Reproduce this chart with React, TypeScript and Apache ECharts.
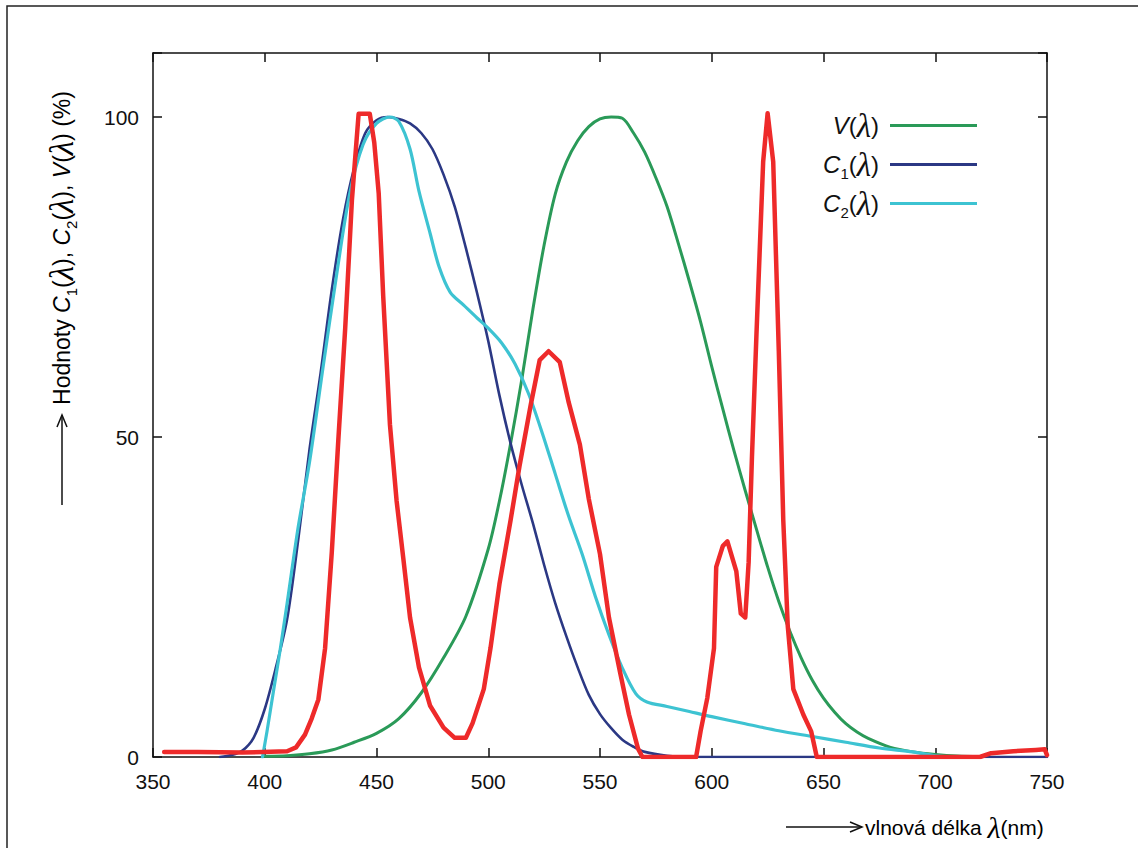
import React, { useEffect, useRef } from "react";
import * as echarts from "echarts";

// ---- data (wavelength in nm, value in %) ----
const vWavelength = [400, 410, 420, 430, 440, 450, 460, 470, 480, 490, 500, 505, 510, 515, 520, 525, 530, 535, 540, 545, 550, 555, 560, 565, 570, 575, 580, 585, 590, 595, 600, 605, 610, 615, 620, 625, 630, 635, 640, 645, 650, 655, 660, 665, 670, 680, 690, 700, 710, 720];
const vValues = [0.1, 0.2, 0.5, 1.1, 2.3, 3.7, 6.0, 10.0, 15.5, 22.0, 32.5, 40.0, 49.0, 59.0, 70.0, 80.0, 88.0, 93.0, 96.3, 98.5, 99.7, 100, 99.8, 97.5, 94.5, 90.5, 86.0, 80.3, 74.3, 68.0, 61.0, 54.3, 47.8, 41.6, 35.6, 29.7, 24.3, 19.6, 15.5, 12.0, 9.2, 7.0, 5.2, 3.9, 2.9, 1.5, 0.8, 0.4, 0.15, 0.05];

const c1Wavelength = [380, 385, 390, 395, 400, 405, 410, 415, 420, 425, 430, 435, 440, 445, 450, 455, 460, 465, 470, 475, 480, 485, 490, 495, 500, 505, 510, 515, 520, 525, 530, 535, 540, 545, 550, 555, 560, 565, 570, 580, 590, 750];
const c1Values = [0, 0.3, 1.0, 3.0, 7.5, 14.0, 21.5, 34.0, 48.0, 60.0, 73.0, 84.0, 92.0, 97.5, 99.5, 100, 99.7, 99.0, 97.5, 95.0, 91.0, 86.0, 79.5, 72.5, 65.0, 56.5, 49.0, 42.5, 36.5, 30.0, 24.0, 18.8, 14.0, 9.7, 6.7, 4.5, 2.7, 1.6, 0.8, 0.2, 0, 0];

const c2Wavelength = [399, 401, 404, 407, 410, 415, 420, 426, 432, 438, 444, 450, 456, 460, 465, 469, 474, 478, 483, 489, 495, 500, 506, 512, 518, 524, 530, 536, 542, 548, 554, 560, 566, 571, 580, 590, 600, 615, 630, 645, 660, 675, 690, 700, 710];
const c2Values = [0, 4.0, 10.5, 17.0, 24.0, 36.0, 46.0, 60.7, 75.0, 88.0, 95.7, 99.0, 100, 99.3, 95.0, 88.4, 81.8, 76.6, 72.6, 70.6, 68.6, 67.0, 64.7, 61.4, 56.8, 50.8, 44.2, 37.6, 31.7, 25.0, 19.1, 13.9, 9.9, 8.6, 7.9, 7.1, 6.3, 5.2, 4.1, 3.2, 2.3, 1.4, 0.8, 0.2, 0];

const ledWavelength = [355, 370, 390, 410, 414, 418, 421, 424, 427, 430, 433, 436, 439, 442, 447, 449, 451, 453, 456, 459, 462, 465, 469, 474, 480, 485, 490, 493, 498, 501, 505, 510, 514, 519, 523, 527, 532, 536, 541, 545, 550, 554, 559, 563, 567, 569, 593, 595, 598, 601, 602, 605, 607, 611, 613, 615, 616.5, 618, 620, 623, 625, 627.5, 630, 632, 634, 636.5, 641, 644.5, 647, 720, 725, 735, 745, 749, 750];
const ledValues = [0.8, 0.8, 0.7, 0.9, 1.5, 3.5, 6.0, 9.0, 17.0, 32.0, 50.0, 67.0, 87.0, 100.5, 100.5, 96.0, 88.0, 72.0, 52.0, 40.0, 31.0, 21.8, 14.0, 8.0, 4.6, 3.0, 3.0, 5.3, 10.6, 17.0, 27.0, 37.0, 45.5, 55.0, 62.0, 63.4, 61.7, 55.4, 48.8, 40.3, 31.7, 21.8, 13.2, 6.6, 1.3, 0, 0, 4.0, 9.2, 17.0, 29.7, 33.0, 33.7, 29.0, 22.4, 21.8, 30.4, 47.0, 66.0, 93.0, 100.6, 93.0, 63.4, 37.0, 20.5, 10.6, 6.6, 4.0, 0, 0, 0.6, 0.9, 1.1, 1.2, 0.3];

const xTicks = { min: 350, max: 750, step: 50 };
const yTicks = { min: 0, max: 110, step: 50 };

const seriesNames = ["V(λ)", "C1(λ)", "C2(λ)", "LED"];

const zip = (xs: number[], ys: number[]) => xs.map((x, i) => [x, ys[i]]);

const FONT = "Liberation Sans, Arial, Helvetica, sans-serif";
const SERIF = "Liberation Serif, Times New Roman, serif";

const makeRich = (size: number, lambda: number, sub: number, lh: number) => ({
  t: { fontSize: size, fontFamily: FONT, color: "#111", lineHeight: lh },
  i: { fontSize: size, fontFamily: FONT, fontStyle: "italic", color: "#111", lineHeight: lh },
  s: { fontSize: sub, fontFamily: FONT, color: "#111", lineHeight: Math.round(lh * 0.5), verticalAlign: "bottom" },
  l: { fontSize: lambda, fontFamily: SERIF, fontStyle: "italic", color: "#111", lineHeight: lh },
});

const legendRich = makeRich(24, 33, 15, 32);
const titleRich = makeRich(23, 33, 15, 34);

const legendText: Record<string, string> = {
  "V(λ)": "{i|V}{t|(}{l|λ}{t|)}",
  "C1(λ)": "{i|C}{s|1}{t|(}{l|λ}{t|)}",
  "C2(λ)": "{i|C}{s|2}{t|(}{l|λ}{t|)}",
};

export default function App() {
  const ref = useRef<HTMLDivElement>(null);

  useEffect(() => {
    if (!ref.current) return;
    const chart = echarts.init(ref.current, undefined, { renderer: "svg" });

    const axisLine = { show: true, onZero: false, lineStyle: { color: "#111", width: 1.5 } };
    const axisTick = { show: true, inside: true, length: 9, lineStyle: { color: "#111", width: 1.5 } };

    const lineSeries = (name: string, data: number[][], color: string, width: number, smooth: number | boolean) => ({
      name,
      type: "line",
      data,
      showSymbol: false,
      symbol: "none",
      smooth,
      color,
      lineStyle: { color, width, cap: "round", join: "round" },
      itemStyle: { color },
    });

    chart.setOption({
      animation: false,
      backgroundColor: "#ffffff",
      grid: { left: 153, top: 53, width: 894, height: 704, containLabel: false },
      legend: {
        data: seriesNames.slice(0, 3),
        orient: "vertical",
        align: "right",
        right: 156,
        top: 104,
        padding: 5,
        icon: "rect",
        itemWidth: 87,
        itemHeight: 3,
        itemGap: 6,
        selectedMode: false,
        formatter: (n: string) => legendText[n] || n,
        textStyle: { fontSize: 24, fontFamily: FONT, color: "#111", lineHeight: 32, padding: [0, 6, 0, 0], rich: legendRich },
      },
      xAxis: [
        {
          type: "value",
          position: "bottom",
          min: xTicks.min,
          max: xTicks.max,
          interval: xTicks.step,
          axisLine,
          axisTick,
          splitLine: { show: false },
          axisLabel: { show: true, fontSize: 21, fontFamily: FONT, color: "#111", margin: 14 },
        },
        {
          type: "value",
          position: "top",
          min: xTicks.min,
          max: xTicks.max,
          interval: xTicks.step,
          axisLine,
          axisTick,
          splitLine: { show: false },
          axisLabel: { show: false },
        },
      ],
      yAxis: [
        {
          type: "value",
          position: "left",
          min: yTicks.min,
          max: yTicks.max,
          interval: yTicks.step,
          axisLine,
          axisTick,
          splitLine: { show: false },
          axisLabel: {
            show: true,
            fontSize: 21,
            fontFamily: FONT,
            color: "#111",
            margin: 14,
            formatter: (v: number) => (v === yTicks.max ? "" : String(v)),
          },
        },
        {
          type: "value",
          position: "right",
          min: yTicks.min,
          max: yTicks.max,
          interval: yTicks.step,
          axisLine,
          axisTick,
          splitLine: { show: false },
          axisLabel: { show: false },
        },
      ],
      series: [
        lineSeries(seriesNames[0], zip(vWavelength, vValues), "#2a9a58", 3, 0.3),
        lineSeries(seriesNames[1], zip(c1Wavelength, c1Values), "#2b3884", 2.6, 0.3),
        lineSeries(seriesNames[2], zip(c2Wavelength, c2Values), "#3dc3d2", 3.2, 0.3),
        lineSeries(seriesNames[3], zip(ledWavelength, ledValues), "#ee2a2a", 4.5, false),
      ],
      graphic: [
        // outer frame
        { type: "rect", shape: { x: 7, y: 6, width: 1200, height: 900 }, style: { fill: "none", stroke: "#222", lineWidth: 1.5 }, silent: true },
        // y-axis title
        {
          type: "text",
          x: 62,
          y: 248,
          rotation: Math.PI / 2,
          style: {
            text: "{t|Hodnoty }{i|C}{s|1}{t|(}{l|λ}{t|), }{i|C}{s|2}{t|(}{l|λ}{t|), }{i|V}{t|(}{l|λ}{t|) (%)}",
            rich: titleRich,
            align: "center",
            verticalAlign: "middle",
          },
        },
        // y-axis arrow
        { type: "line", shape: { x1: 62, y1: 505, x2: 62, y2: 415 }, style: { stroke: "#111", lineWidth: 1.5 } },
        { type: "polyline", shape: { points: [[57, 427], [62, 415], [67, 427]] }, style: { stroke: "#111", lineWidth: 1.5, fill: "none" } },
        // x-axis arrow
        { type: "line", shape: { x1: 786, y1: 827, x2: 862, y2: 827 }, style: { stroke: "#111", lineWidth: 1.5 } },
        { type: "polyline", shape: { points: [[850, 822], [862, 827], [850, 832]] }, style: { stroke: "#111", lineWidth: 1.5, fill: "none" } },
        // x-axis title
        {
          type: "text",
          x: 865,
          y: 827,
          style: {
            text: "{t|vlnová délka }{l|λ}{t|(nm)}",
            rich: makeRich(21, 30, 13, 34),
            align: "left",
            verticalAlign: "middle",
          },
        },
      ],
    });

    return () => chart.dispose();
  }, []);

  return <div ref={ref} style={{ position: "absolute", left: 0, top: 0, width: 1138, height: 848 }} />;
}
